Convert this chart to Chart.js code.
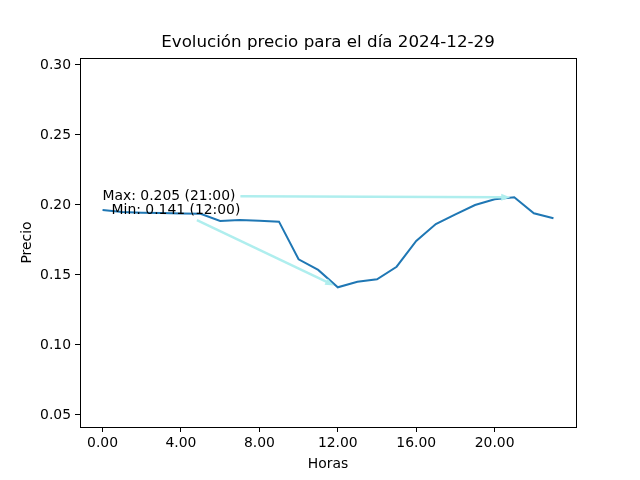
<!DOCTYPE html>
<html>
<head>
<meta charset="utf-8">
<script src="https://cdn.jsdelivr.net/npm/chart.js@4"></script>
<style>
  html, body { margin: 0; padding: 0; background: #fff; }
  #wrap { width: 640px; height: 480px; }
</style>
</head>
<body>
<div id="wrap"><canvas id="myChart" width="640" height="480"></canvas></div>
<script>
// datos del dia
var horas = [0, 1, 2, 3, 4, 5, 6, 7, 8, 9, 10, 11, 12, 13, 14, 15, 16, 17, 18, 19, 20, 21, 22, 23];
var precios = [0.1964, 0.195, 0.1945, 0.1942, 0.194, 0.1937, 0.1886, 0.1893, 0.1888, 0.1881, 0.1612, 0.1536, 0.1412,
               0.1452, 0.1469, 0.1559, 0.1743, 0.1864, 0.1933, 0.2000, 0.2041, 0.2055, 0.1941, 0.1905];
var xTicks = [0, 4, 8, 12, 16, 20];
var yTicks = [0.05, 0.10, 0.15, 0.20, 0.25, 0.30];
var titulo = 'Evolución precio para el día 2024-12-29';

var FONT = 'DejaVu Sans';

// max / min
var iMax = precios.indexOf(Math.max.apply(null, precios));
var iMin = precios.indexOf(Math.min.apply(null, precios));
function hh(h) { return (h < 10 ? '0' : '') + h + ':00'; }

var notas = [
    { text: 'Max: ' + precios[iMax].toFixed(3) + ' (' + hh(horas[iMax]) + ')', x: horas[iMax], y: precios[iMax], tx: 0, ty: 0.2064 },
    { text: 'Min: ' + precios[iMin].toFixed(3) + ' (' + hh(horas[iMin]) + ')', x: horas[iMin], y: precios[iMin], tx: 0.46, ty: 0.1964 }
];

// titulo centrado sobre el area, marco completo + anotaciones con flecha
var extras = {
    id: 'extras',
    afterDatasetsDraw: function(chart) {
        var c = chart.ctx, a = chart.chartArea;
        var xs = chart.scales.x, ys = chart.scales.y;
        c.save();
        c.fillStyle = '#000';
        c.font = '16.7px "' + FONT + '"';
        c.textAlign = 'center';
        c.textBaseline = 'middle';
        c.fillText(titulo, (a.left + a.right) / 2, 43);

        c.font = '13.9px "' + FONT + '"';
        c.textAlign = 'left';
        notas.forEach(function(n) {
            var px = xs.getPixelForValue(n.tx), py = ys.getPixelForValue(n.ty);
            var w = c.measureText(n.text).width;
            var cx = px + w / 2, cy = py;
            var tx = xs.getPixelForValue(n.x), ty = ys.getPixelForValue(n.y);
            var dx = tx - cx, dy = ty - cy;
            var hw = w / 2 + 5, hh2 = 10;
            var t = Math.min(Math.abs(hw / dx), Math.abs(hh2 / (dy || 1e-9)));
            var sx = cx + dx * t, sy = cy + dy * t;
            var len = Math.sqrt(dx * dx + dy * dy);
            var ux = dx / len, uy = dy / len;
            var ex = tx - ux * 4, ey = ty - uy * 4;
            c.strokeStyle = '#afeeee';
            c.fillStyle = '#afeeee';
            c.lineWidth = 2.5;
            c.beginPath();
            c.moveTo(sx, sy);
            c.lineTo(ex - ux * 6, ey - uy * 6);
            c.stroke();
            c.beginPath();
            c.moveTo(ex, ey);
            c.lineTo(ex - ux * 9 - uy * 3.5, ey - uy * 9 + ux * 3.5);
            c.lineTo(ex - ux * 9 + uy * 3.5, ey - uy * 9 - ux * 3.5);
            c.closePath();
            c.fill();
            c.fillStyle = '#000';
            c.fillText(n.text, px, py);
        });
        c.strokeStyle = '#000';
        c.lineWidth = 1;
        c.strokeRect(Math.round(a.left) + 0.5, Math.round(a.top) + 0.5, Math.round(a.right - a.left), Math.round(a.bottom - a.top));
        c.restore();
    }
};

var ctx = document.getElementById('myChart').getContext('2d');
var chart = new Chart(ctx, {
    type: 'line',
    data: {
        datasets: [{
            label: 'Precio',
            data: horas.map(function(h, i) { return { x: h, y: precios[i] }; }),
            borderColor: '#1f77b4',
            borderWidth: 2,
            pointRadius: 0,
            tension: 0,
            fill: false
        }]
    },
    plugins: [extras],
    options: {
        responsive: false,
        animation: false,
        layout: { padding: { left: 0, right: 64, top: 58, bottom: 0 } },
        plugins: {
            legend: { display: false },
            tooltip: { enabled: false },
            title: { display: false }
        },
        scales: {
            x: {
                type: 'linear',
                min: -1.15,
                max: 24.15,
                afterBuildTicks: function(s) { s.ticks = xTicks.map(function(v) { return { value: v }; }); },
                afterFit: function(s) { s.height = 53; },
                ticks: {
                    color: '#000',
                    font: { family: FONT, size: 13.9 },
                    padding: 3,
                    maxRotation: 0,
                    callback: function(v) { return v.toFixed(2); }
                },
                grid: { drawOnChartArea: false, drawTicks: true, tickLength: 5, color: '#000' },
                border: { display: false },
                title: { display: true, text: 'Horas', color: '#000', font: { family: FONT, size: 13.9 }, padding: { top: 2, bottom: 7 } }
            },
            y: {
                min: 0.0414,
                max: 0.305,
                afterBuildTicks: function(s) { s.ticks = yTicks.map(function(v) { return { value: v }; }); },
                afterFit: function(s) { s.width = 80; },
                ticks: {
                    color: '#000',
                    font: { family: FONT, size: 13.9 },
                    padding: 4,
                    callback: function(v) { return v.toFixed(2); }
                },
                grid: { drawOnChartArea: false, drawTicks: true, tickLength: 5, color: '#000' },
                border: { display: false },
                title: { display: true, text: 'Precio', color: '#000', font: { family: FONT, size: 13.9 }, padding: { top: 19, bottom: 4 } }
            }
        }
    }
});
</script>
</body>
</html>
